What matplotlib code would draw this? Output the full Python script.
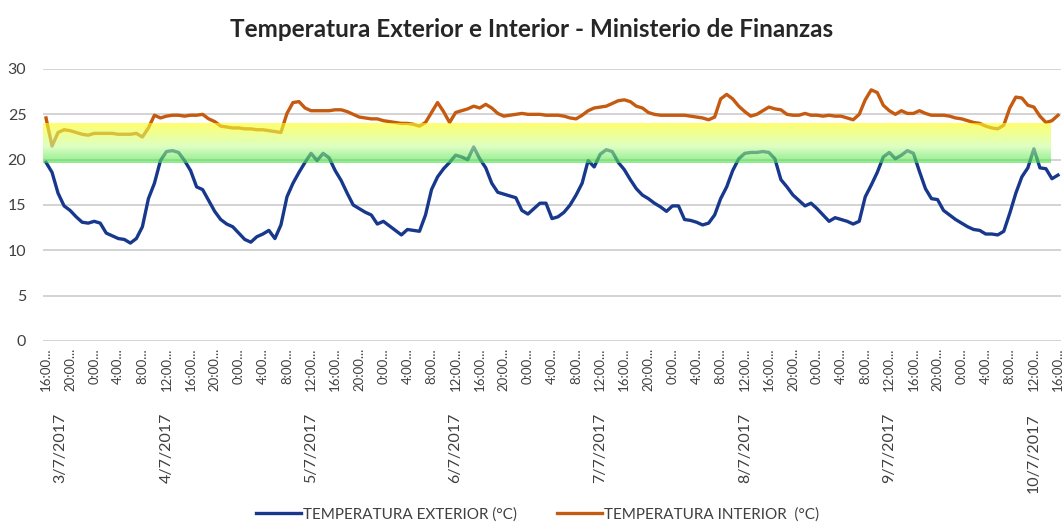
import numpy as np
import matplotlib.pyplot as plt

# hourly readings, 3/7/2017 16:00 -> 10/7/2017 16:00
temp_exterior = [
    19.7, 18.6, 16.3, 14.9, 14.4, 13.7, 13.1, 13.0, 13.2, 13.0,
    11.9, 11.6, 11.3, 11.2, 10.8, 11.3, 12.6, 15.7, 17.4, 19.9,
    20.9, 21.0, 20.8, 19.9, 18.8, 17.0, 16.7, 15.5, 14.3, 13.4,
    12.9, 12.6, 11.9, 11.2, 10.9, 11.5, 11.8, 12.2, 11.3, 12.8,
    15.9, 17.4, 18.6, 19.7, 20.7, 19.9, 20.7, 20.2, 18.8, 17.7,
    16.3, 15.0, 14.6, 14.2, 13.9, 12.9, 13.2, 12.7, 12.2, 11.7,
    12.3, 12.2, 12.1, 13.9, 16.7, 18.1, 19.0, 19.7, 20.5, 20.3,
    20.0, 21.4, 20.1, 19.1, 17.4, 16.4, 16.2, 16.0, 15.8, 14.4,
    14.0, 14.6, 15.2, 15.2, 13.5, 13.7, 14.2, 15.0, 16.1, 17.4,
    19.9, 19.2, 20.6, 21.1, 20.9, 19.7, 18.9, 17.8, 16.8, 16.1,
    15.7, 15.2, 14.8, 14.3, 14.9, 14.9, 13.4, 13.3, 13.1, 12.8,
    13.0, 13.9, 15.7, 17.0, 18.8, 20.1, 20.7, 20.8, 20.8, 20.9,
    20.8, 20.1, 17.8, 17.0, 16.1, 15.5, 14.9, 15.2, 14.6, 13.9,
    13.2, 13.6, 13.4, 13.2, 12.9, 13.2, 15.9, 17.2, 18.6, 20.3,
    20.8, 20.1, 20.5, 21.0, 20.7, 18.7, 16.8, 15.7, 15.6, 14.4,
    13.9, 13.4, 13.0, 12.6, 12.3, 12.2, 11.8, 11.8, 11.7, 12.1,
    14.1, 16.3, 18.1, 19.1, 21.2, 19.1, 19.0, 17.9, 18.3,
]
temp_interior = [
    24.6, 21.5, 23.0, 23.3, 23.2, 23.0, 22.8, 22.7, 22.9, 22.9,
    22.9, 22.9, 22.8, 22.8, 22.8, 22.9, 22.5, 23.5, 24.9, 24.6,
    24.8, 24.9, 24.9, 24.8, 24.9, 24.9, 25.0, 24.5, 24.2, 23.7,
    23.6, 23.5, 23.5, 23.4, 23.4, 23.3, 23.3, 23.2, 23.1, 23.0,
    25.1, 26.3, 26.4, 25.7, 25.4, 25.4, 25.4, 25.4, 25.5, 25.5,
    25.3, 25.0, 24.7, 24.6, 24.5, 24.5, 24.3, 24.2, 24.1, 24.0,
    24.0, 23.9, 23.7, 24.1, 25.2, 26.3, 25.3, 24.1, 25.2, 25.4,
    25.6, 25.9, 25.7, 26.1, 25.7, 25.1, 24.8, 24.9, 25.0, 25.1,
    25.0, 25.0, 25.0, 24.9, 24.9, 24.9, 24.8, 24.6, 24.5, 24.9,
    25.4, 25.7, 25.8, 25.9, 26.2, 26.5, 26.6, 26.4, 25.9, 25.7,
    25.2, 25.0, 24.9, 24.9, 24.9, 24.9, 24.9, 24.8, 24.7, 24.6,
    24.4, 24.7, 26.7, 27.2, 26.7, 25.9, 25.3, 24.8, 25.0, 25.4,
    25.8, 25.6, 25.5, 25.0, 24.9, 24.9, 25.1, 24.9, 24.9, 24.8,
    24.9, 24.8, 24.8, 24.6, 24.4, 25.0, 26.6, 27.7, 27.4, 26.0,
    25.4, 25.0, 25.4, 25.1, 25.1, 25.4, 25.1, 24.9, 24.9, 24.9,
    24.8, 24.6, 24.5, 24.3, 24.1, 24.0, 23.7, 23.5, 23.4, 23.8,
    25.7, 26.9, 26.8, 26.0, 25.8, 24.8, 24.1, 24.3, 24.9,
]
time_labels = [f"{(16 + 4 * k) % 24}:00..." for k in range(43)]
day_labels = ["3/7/2017", "4/7/2017", "5/7/2017", "6/7/2017",
              "7/7/2017", "8/7/2017", "9/7/2017", "10/7/2017"]
comfort_low, comfort_high = 19.6, 24.0

FONT = ["Lato", "DejaVu Sans"]
plt.rcParams["font.family"] = FONT

n = len(temp_exterior)
x = np.arange(n)

fig = plt.figure(figsize=(10.64, 5.26), dpi=100)
ax = fig.add_axes([43 / 1064, 1 - 341 / 526, 1018 / 1064, 272 / 526])

ax.plot(x, temp_exterior, color="#17388c", lw=2.4, zorder=3,
        label="TEMPERATURA EXTERIOR (°C)")
ax.plot(x, temp_interior, color="#c55a11", lw=2.4, zorder=3,
        label="TEMPERATURA INTERIOR  (°C)")

# comfort band, yellow -> green, laid over the lines
stops = np.array([[1.0, 1.0, 0.1], [0.78, 1.0, 0.62], [0.28, 0.88, 0.28]])
t = np.linspace(0, 1, 100)
grad = np.empty((100, 1, 4))
for c in range(3):
    grad[:, 0, c] = np.interp(t, [0, 0.6, 1], stops[:, c])
grad[:, 0, 3] = 0.62
ax.imshow(grad, extent=(-0.5, 166.7, comfort_low, comfort_high), origin="upper",
          aspect="auto", zorder=4, interpolation="bilinear")

ax.set_xlim(-0.5, n - 0.5)
ax.set_ylim(0, 30)
ax.set_yticks(range(0, 31, 5))
ax.yaxis.grid(True, color="#d0d0d0", lw=1.3)
ax.set_axisbelow(True)
for s in ax.spines.values():
    s.set_visible(False)
ax.tick_params(axis="y", length=0, pad=12, labelsize=11.5, labelcolor="#404040")

ax.set_xticks(x[::4])
ax.set_xticklabels(time_labels, rotation=90, fontsize=9.5, color="#404040")
ax.tick_params(axis="x", length=0, pad=5)

# date level of the category axis, centred on each day's noon
day_pos = [2.3] + [20 + 24 * k for k in range(7)]
for p, lab in zip(day_pos, day_labels):
    ax.text(p, -0.265, lab, transform=ax.get_xaxis_transform(), rotation=90,
            ha="center", va="top", fontsize=11.5, color="#404040")

fig.suptitle("Temperatura Exterior e Interior - Ministerio de Finanzas",
             y=0.965, fontsize=17.5, fontweight="bold", color="#262626")

fig.legend(loc="lower center", bbox_to_anchor=(0.505, -0.018), ncol=2,
           frameon=False, fontsize=11, handlelength=3.0, handletextpad=0.1,
           columnspacing=2.6, labelcolor="#404040")

fig.savefig("out.png", dpi=100)
